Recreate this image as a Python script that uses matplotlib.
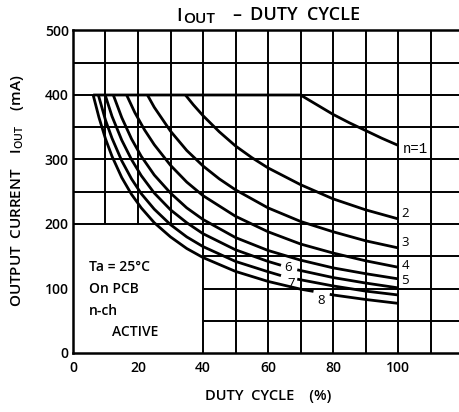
import matplotlib
matplotlib.use("Agg")
import matplotlib.pyplot as plt
import numpy as np

plt.rcParams['font.family'] = ['Open Sans', 'DejaVu Sans']

nan = np.nan
x_ticks = [0, 20, 40, 60, 80, 100]
y_ticks = [0, 100, 200, 300, 400, 500]

# curves (duty cycle %, output current mA); nan marks label gaps
n1_x = [6.2, 70, 75, 80, 85, 90, 95, 100]
n1_y = [400, 400, 385, 370, 357, 345, 333, 322]
n2_x = [34.6, 37, 40, 45, 50, 55, 60, 70, 80, 90, 100]
n2_y = [400, 385, 368, 343, 321, 303, 287, 261, 239, 222, 208]
n3_x = [22.9, 25, 30, 35, 40, 45, 50, 60, 70, 80, 90, 100]
n3_y = [400, 381, 344, 314, 290, 270, 253, 225, 204, 188, 174, 163]
n4_x = [16.5, 19, 22, 25, 30, 35, 40, 50, 60, 70, 80, 90, 100]
n4_y = [400, 373, 346, 323, 291, 265, 244, 212, 188, 169, 155, 143, 133]
n5_x = [12.4, 15, 18, 21, 25, 30, 35, 40, 50, 60, 70, 80, 90, 100]
n5_y = [400, 365, 332, 305, 276, 248, 225, 207, 179, 159, 144, 132, 123, 115]
n6_x = [9.9, 12, 15, 18, 21, 25, 30, 35, 40, 50, 60, 64, nan, 69, 80, 90, 100]
n6_y = [400, 367, 330, 300, 275, 248, 222, 202, 185, 160, 142, 136, nan, 129, 117, 108.5, 101]
n7_x = [7.8, 10, 12, 15, 18, 21, 25, 30, 35, 40, 50, 60, 64, nan, 69, 80, 90, 100]
n7_y = [400, 361, 333, 298, 270, 247, 223, 199, 180, 165, 142, 126, 120, nan, 114.5, 104, 96, 90]
n8_x = [6.2, 8, 10, 12, 15, 18, 21, 25, 30, 35, 40, 50, 60, 70, 74, nan, 79, 80, 90, 100]
n8_y = [400, 365, 332, 305, 272, 246, 225, 202, 180, 162, 148, 126.5, 111, 99, 95.5, nan, 91, 90, 83, 77]

curves = [(n1_x, n1_y), (n2_x, n2_y), (n3_x, n3_y), (n4_x, n4_y),
          (n5_x, n5_y), (n6_x, n6_y), (n7_x, n7_y), (n8_x, n8_y)]

fig = plt.figure(figsize=(4.6, 4.12), dpi=100)
ax = fig.add_axes([73/460, 59/412, 390/460, 322.5/412])
ax.set_xlim(0, 120)
ax.set_ylim(0, 500)

# grid (blank area in lower-left box)
glw = 1.4
for gx in range(10, 121, 10):
    lo = 200 if gx < 40 else 0
    ax.plot([gx, gx], [lo, 500], color='black', lw=glw, zorder=1, solid_capstyle='butt')
for gy in range(50, 501, 50):
    lo = 40 if gy < 200 else 0
    ax.plot([lo, 120], [gy, gy], color='black', lw=glw, zorder=1, solid_capstyle='butt')

for cx, cy in curves:
    ax.plot(cx, cy, color='black', lw=2.0, zorder=3, solid_capstyle='butt')

for s in ['left', 'bottom', 'top']:
    ax.spines[s].set_linewidth(1.8)
ax.spines['right'].set_visible(False)

ax.set_xticks(x_ticks)
ax.set_yticks(y_ticks)
ax.tick_params(length=0, labelsize=10)
ax.tick_params(axis='x', pad=6)
ax.tick_params(axis='y', pad=3)
for lab in ax.get_xticklabels() + ax.get_yticklabels():
    lab.set_fontweight('semibold')

ax.set_xlabel('DUTY  CYCLE    (%)', fontsize=10.5, fontweight='semibold', labelpad=10)

fig.text(18/460, 1 - 191/412, r'OUTPUT  CURRENT    I$_{\mathregular{OUT}}$    (mA)',
         rotation=90, ha='center', va='center', fontsize=11, fontweight='semibold')

# title
fig.text(182/460, 1 - 16/412, 'I', ha='right', va='center', fontsize=13, fontweight='semibold')
fig.text(183/460, 1 - 19/412, 'OUT', ha='left', va='center', fontsize=11, fontweight='semibold')
fig.text(237/460, 1 - 15/412, '–', ha='center', va='center', fontsize=13, fontweight='semibold')
fig.text(250/460, 1 - 15/412, 'DUTY  CYCLE', ha='left', va='center', fontsize=13, fontweight='semibold')

# box annotations
for txt, tx, ty in [('Ta = 25°C', 5.0, 133), ('On PCB', 5.0, 99),
                    ('n-ch', 5.0, 65), ('ACTIVE', 12.0, 32)]:
    ax.text(tx, ty, txt, fontsize=10, fontweight='semibold', va='center', ha='left', zorder=4)

# curve labels
ax.text(101.5, 317, 'n=1', fontsize=10, family='Liberation Mono', va='center', ha='left')
for lab, lx, ly in [('2', 101.0, 217), ('3', 101.0, 171), ('4', 101.0, 135),
                    ('5', 101.0, 112), ('6', 66.2, 133), ('7', 67.0, 108), ('8', 76.5, 81)]:
    ax.text(lx, ly, lab, fontsize=9.5, va='center', ha='center' if lx < 100 else 'left', zorder=4)

fig.savefig('out.png', dpi=100)
